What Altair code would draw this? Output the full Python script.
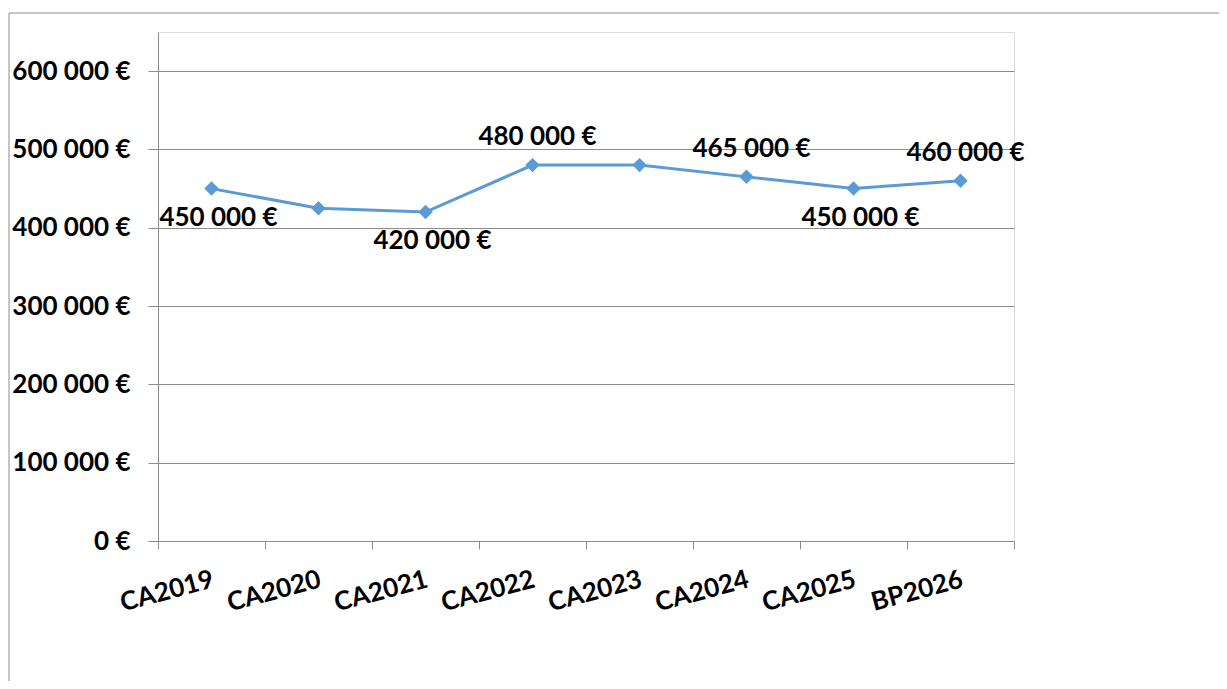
import altair as alt
import pandas as pd

# ---- data ----
categories = ["CA2019", "CA2020", "CA2021", "CA2022", "CA2023", "CA2024", "CA2025", "BP2026"]
values = [450000, 425000, 420000, 480000, 480000, 465000, 450000, 460000]
labels = ["450 000 €", "", "420 000 €", "480 000 €", "", "465 000 €", "450 000 €", "460 000 €"]
label_side = ["below", "none", "below", "above", "none", "above", "below", "above"]
y_ticks = [0, 100000, 200000, 300000, 400000, 500000, 600000]
y_max = 650000

df = pd.DataFrame({"cat": categories, "value": values, "label": labels, "side": label_side})

FONT = "Lato"
FS = 26
BLUE = "#5B9BD5"
GRAY = "#8C8C8C"

x_enc = alt.X(
    "cat:N",
    sort=categories,
    scale=alt.Scale(type="band", paddingInner=0, paddingOuter=0),
    axis=alt.Axis(
        title=None, labelAngle=-15, labelAlign="right", labelBaseline="top",
        labelFont=FONT, labelFontSize=FS, labelFontWeight="bold", labelColor="black",
        labelPadding=17, labelOffset=-2, tickBand="extent", tickSize=8, tickColor=GRAY,
        domainColor=GRAY, grid=False,
    ),
)
y_enc = alt.Y(
    "value:Q",
    scale=alt.Scale(domain=[0, y_max], nice=False, zero=True),
    axis=alt.Axis(
        title=None, values=y_ticks,
        labelExpr="datum.value == 0 ? '0 €' : format(datum.value / 1000, 'd') + ' 000 €'",
        labelFont=FONT, labelFontSize=FS, labelFontWeight="bold", labelColor="black",
        labelPadding=18, tickSize=10, tickColor=GRAY, domainColor=GRAY,
        grid=True, gridColor=GRAY, gridWidth=1,
    ),
)

base = alt.Chart(df)

line = base.mark_line(
    color=BLUE, strokeWidth=3,
    point=alt.OverlayMarkDef(shape="diamond", size=210, filled=True, color=BLUE),
).encode(x=x_enc, y=y_enc)

text_style = dict(font=FONT, fontSize=FS, fontWeight="bold", color="black")
above = base.transform_filter(alt.datum.side == "above").mark_text(
    dy=-28, dx=5, **text_style
).encode(x=x_enc, y=y_enc, text="label:N")
below = base.transform_filter(alt.datum.side == "below").mark_text(
    dy=29, dx=7, **text_style
).encode(x=x_enc, y=y_enc, text="label:N")

frame_df = pd.DataFrame({"k": [0]})
frame_top = alt.Chart(frame_df).mark_rule(color=GRAY, strokeWidth=1).encode(
    x=alt.value(-149), x2=alt.value(1070), y=alt.value(-19)
)
frame_left = alt.Chart(frame_df).mark_rule(color=GRAY, strokeWidth=1).encode(
    x=alt.value(-149), y=alt.value(-19), y2=alt.value(700)
)

chart = alt.layer(frame_top, frame_left, line, above, below).properties(
    width=856, height=509,
    autosize=alt.AutoSizeParams(type="none"),
    padding={"left": 150, "top": 24, "right": 205, "bottom": 140},
).configure_view(stroke="transparent").configure(background="white")

chart.save("out.html", embed_options={"renderer": "svg", "actions": False})
